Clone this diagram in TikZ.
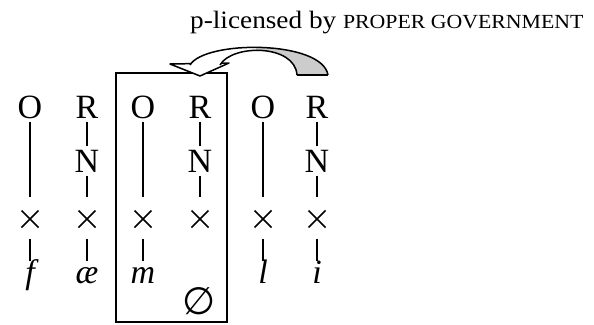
\documentclass[tikz,border=0pt]{standalone}
\usepackage{fontspec}
\setmainfont{Liberation Serif}
\newfontfamily\licfont[FakeStretch=1.09]{Liberation Serif}
\newfontfamily\emptysetfont{DejaVu Sans}
\usetikzlibrary{shapes.misc}

\tikzset{
    tier/.style={inner sep=3pt, text height=23pt, text depth=0pt, font=\fontsize{34}{38}\selectfont},
    skel/.style={cross out, draw, line width=1.6pt, minimum size=17pt, inner sep=0pt, outer sep=0pt},
    seg/.style={anchor=base, inner sep=3pt, text height=19pt, text depth=6pt, font=\fontsize{34}{38}\selectfont\itshape},
    tox/.style={shorten >=14pt},
    fromx/.style={shorten <=11pt},
    assoc/.style={line width=1.6pt},
    heavy/.style={line width=2.5pt},
    light/.style={line width=1.2pt},
    ribbon/.style={line width=1.5pt}
}

\begin{document}
\begin{tikzpicture}[x=1pt, y=-1pt]
                        \useasboundingbox (0,0) rectangle (594,324);
                        \node[anchor=base west, inner sep=0pt] (lic) at (190, 28)
                            {\licfont\fontsize{25}{30}\selectfont p-licensed by {\fontsize{20}{24}\selectfont PROPER GOVERNMENT}};

                        \node[draw, line width=1.8pt, minimum width=111pt, minimum height=249pt, inner sep=0pt] (dom) at (171.5, 197.5) {};

                        \node[tier] (o1) at (30, 107) {O};
                        \node[skel] (x1) at (30, 219) {};
                        \node[seg] (s1) at (30, 283) {f};
                        \node[tier] (r2) at (87, 107) {R};
                        \node[tier] (n2) at (87, 161) {N};
                        \node[skel] (x2) at (87, 219) {};
                        \node[seg] (s2) at (87, 283) {æ};
                        \node[tier] (o3) at (143, 107) {O};
                        \node[skel] (x3) at (143, 219) {};
                        \node[seg] (s3) at (143, 283) {m};
                        \node[tier] (r4) at (200, 107) {R};
                        \node[tier] (n4) at (200, 161) {N};
                        \node[skel] (x4) at (200, 219) {};
                        \node[font=\emptysetfont\fontsize{38}{42}\selectfont, inner sep=0pt] (s4) at (199, 301) {∅};
                        \node[tier] (o5) at (263, 107) {O};
                        \node[skel] (x5) at (263, 219) {};
                        \node[seg] (s5) at (263, 283) {l};
                        \node[tier] (r6) at (317, 107) {R};
                        \node[tier] (n6) at (317, 161) {N};
                        \node[skel] (x6) at (317, 219) {};
                        \node[seg] (s6) at (317, 283) {i};

                        \draw
                        (o1) edge[heavy, tox] (x1)
                        (x1) edge[heavy, fromx] (s1)
                        (r2) edge[assoc] (n2)
                        (n2) edge[assoc, tox] (x2)
                        (x2) edge[assoc, fromx] (s2)
                        (o3) edge[light, tox] (x3)
                        (x3) edge[assoc, fromx] (s3)
                        (r4) edge[assoc] (n4)
                        (n4) edge[assoc, tox] (x4)
                        (o5) edge[heavy, tox] (x5)
                        (x5) edge[assoc, fromx] (s5)
                        (r6) edge[assoc] (n6)
                        (n6) edge[assoc, tox] (x6)
                        (x6) edge[heavy, fromx] (s6);

                        \filldraw[ribbon, fill=white, line join=round] (170, 64) -- (229, 63) -- (200, 76) -- cycle;
                        \fill[white] (328, 75) .. controls (322, 40) and (205, 40) .. (190, 66)
                            -- (220, 66) .. controls (232, 44) and (295, 44) .. (297, 75) -- cycle;
                        \begin{scope}
                            \clip (256, 30) rectangle (340, 80);
                            \fill[gray!40] (328, 75) .. controls (322, 40) and (205, 40) .. (190, 66)
                                -- (220, 66) .. controls (232, 44) and (295, 44) .. (297, 75) -- cycle;
                        \end{scope}
                        \draw[ribbon] (328, 75) .. controls (322, 40) and (205, 40) .. (190, 65);
                        \draw[ribbon] (297, 75) .. controls (295, 44) and (232, 44) .. (220, 65);
                        \draw[ribbon] (297, 75) -- (328, 75);
                    \end{tikzpicture}
\end{document}
